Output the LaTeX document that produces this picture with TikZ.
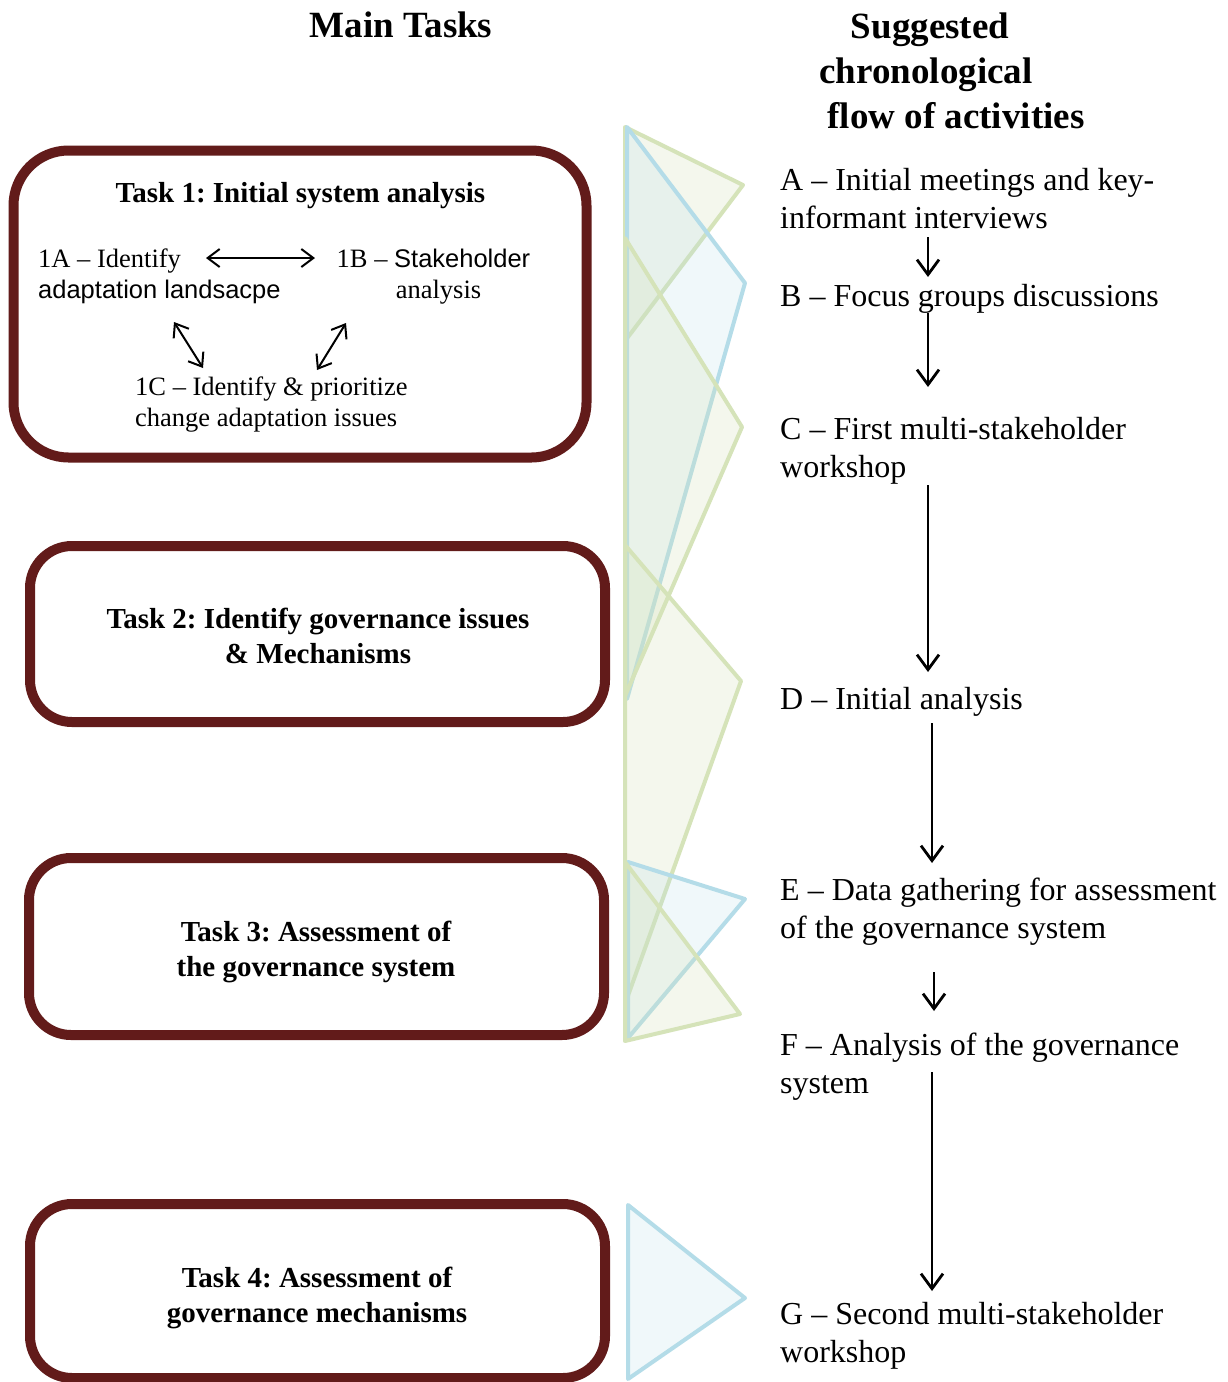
\documentclass[tikz,border=0pt]{standalone}
\usepackage{fontspec}
\setmainfont{Liberation Serif}
\newfontfamily\arialf{Liberation Sans}
\usetikzlibrary{arrows.meta,calc}
\frenchspacing
\definecolor{boxred}{RGB}{98,27,26}
\definecolor{trigreen}{RGB}{213,227,185}
\definecolor{triblue}{RGB}{180,220,232}
\newcommand\ltab[1]{\begin{tabular}[t]{@{}l@{}}#1\end{tabular}}
\newcommand\ctab[1]{\begin{tabular}[t]{@{}c@{}}#1\end{tabular}}
\tikzset{
  taskbox/.style={draw=boxred, line width=10pt, rounded corners=42pt, inner sep=0pt},
  gtri/.style={draw=trigreen, line width=4pt, line join=round, fill=trigreen, fill opacity=0.25},
  btri/.style={draw=triblue, line width=4pt, line join=round, fill=triblue, fill opacity=0.2},
  flow/.style={line width=2.8pt, -{Straight Barb[length=15pt,width=22pt]}},
  innerarr/.style={line width=2pt, {Straight Barb[length=12pt,width=18pt]}-{Straight Barb[length=12pt,width=18pt]}},
  act/.style={anchor=base west, inner sep=0pt, font=\fontsize{32}{38}\selectfont},
  ttl/.style={anchor=base, inner sep=0pt, font=\fontsize{29}{35}\selectfont\bfseries},
  hdr/.style={anchor=base, inner sep=0pt, font=\fontsize{37}{45}\selectfont\bfseries},
  subtxt/.style={inner sep=0pt, font=\fontsize{26.5}{31.5}\selectfont},
}
\begin{document}
\begin{tikzpicture}[x=1pt,y=-1pt]
\useasboundingbox[fill=white] (0,0) rectangle (1227,1382);

% triangles
\draw[gtri] (625,127) -- (743,185) -- (625,341) -- cycle;
\draw[btri] (627,127) -- (745,283) -- (627,699) -- cycle;
\draw[gtri] (625,238) -- (742,427) -- (625,696) -- cycle;
\draw[gtri] (625,545) -- (741,681) -- (625,1004) -- cycle;
\draw[btri] (628,862) -- (745,899) -- (628,1038) -- cycle;
\draw[gtri] (625,862) -- (740,1014) -- (625,1041) -- cycle;
\draw[btri] (628,1205) -- (745,1298) -- (628,1379) -- cycle;

% headers
\node[hdr] (hmain) at (401,37) {Main Tasks};
\node[hdr] (hsug1) at (930,38) {Suggested};
\node[hdr] (hsug2) at (926,83) {chronological};
\node[hdr] (hsug3) at (956,128) {flow of activities};

% task boxes
\node[taskbox, rounded corners=55pt, minimum width=573pt, minimum height=307pt] (task1) at (300,304) {};
\node[taskbox, minimum width=575pt, minimum height=176pt] (task2) at (317.5,634) {};
\node[taskbox, minimum width=575pt, minimum height=177pt] (task3) at (316.5,946.5) {};
\node[taskbox, minimum width=575pt, minimum height=174pt] (task4) at (317.5,1291) {};

% task 1 contents
\node[ttl] (t1title) at (300.5,202) {Task 1: Initial system analysis};
\node[subtxt, anchor=base west] (s1a) at (38,267) {\ltab{1A -- Identify\\{\arialf\fontsize{25.5}{31.5}\selectfont adaptation landsacpe}}};
\node[subtxt, anchor=base] (s1b) at (433.5,267) {\ctab{1B -- {\arialf\fontsize{25.5}{31.5}\selectfont Stakeholder}\\\hspace*{10pt}analysis}};
\node[subtxt, anchor=base west] (s1c) at (135,395) {\ltab{1C -- Identify \& prioritize\\change adaptation issues}};
\draw[innerarr] ($(s1a.base west)+(168,-9)$) -- ($(s1a.base west)+(277,-9)$);
\draw[innerarr] ($(s1a.base west)+(136,55)$) -- ($(s1c.base west)+(68,-27)$);
\draw[innerarr] ($(s1a.base west)+(308,56)$) -- ($(s1c.base west)+(182,-25)$);

% task 2-4 titles
\node[ttl] (t2title) at (318,628) {\ctab{Task 2: Identify governance issues\\\& Mechanisms}};
\node[ttl] (t3title) at (316,941) {\ctab{Task 3: Assessment of\\the governance system}};
\node[ttl] (t4title) at (317,1287) {\ctab{Task 4: Assessment of\\governance mechanisms}};

% activities
\node[act] (actA) at (780,190) {\ltab{A -- Initial meetings and key-\\informant interviews}};
\node[act] (actB) at (780,306) {\ltab{B -- Focus groups discussions}};
\node[act] (actC) at (780,439) {\ltab{C -- First multi-stakeholder\\workshop}};
\node[act] (actD) at (780,709) {\ltab{D -- Initial analysis}};
\node[act] (actE) at (780,900) {\ltab{E -- Data gathering for assessment\\of the governance system}};
\node[act] (actF) at (780,1055) {\ltab{F -- Analysis of the governance\\system}};
\node[act] (actG) at (780,1324) {\ltab{G -- Second multi-stakeholder\\workshop}};

\draw[flow] ($(actA.base west)+(148,47)$) -- ($(actB.base west)+(148,-29)$);
\draw[flow] ($(actB.base west)+(148,7)$) -- ($(actC.base west)+(148,-52)$);
\draw[flow] ($(actC.base west)+(148,46)$) -- ($(actD.base west)+(148,-37)$);
\draw[flow] ($(actD.base west)+(152,14)$) -- ($(actE.base west)+(152,-37)$);
\draw[flow] ($(actE.base west)+(154,72)$) -- ($(actF.base west)+(154,-44)$);
\draw[flow] ($(actF.base west)+(152,17)$) -- ($(actG.base west)+(152,-33)$);
\end{tikzpicture}
\end{document}
